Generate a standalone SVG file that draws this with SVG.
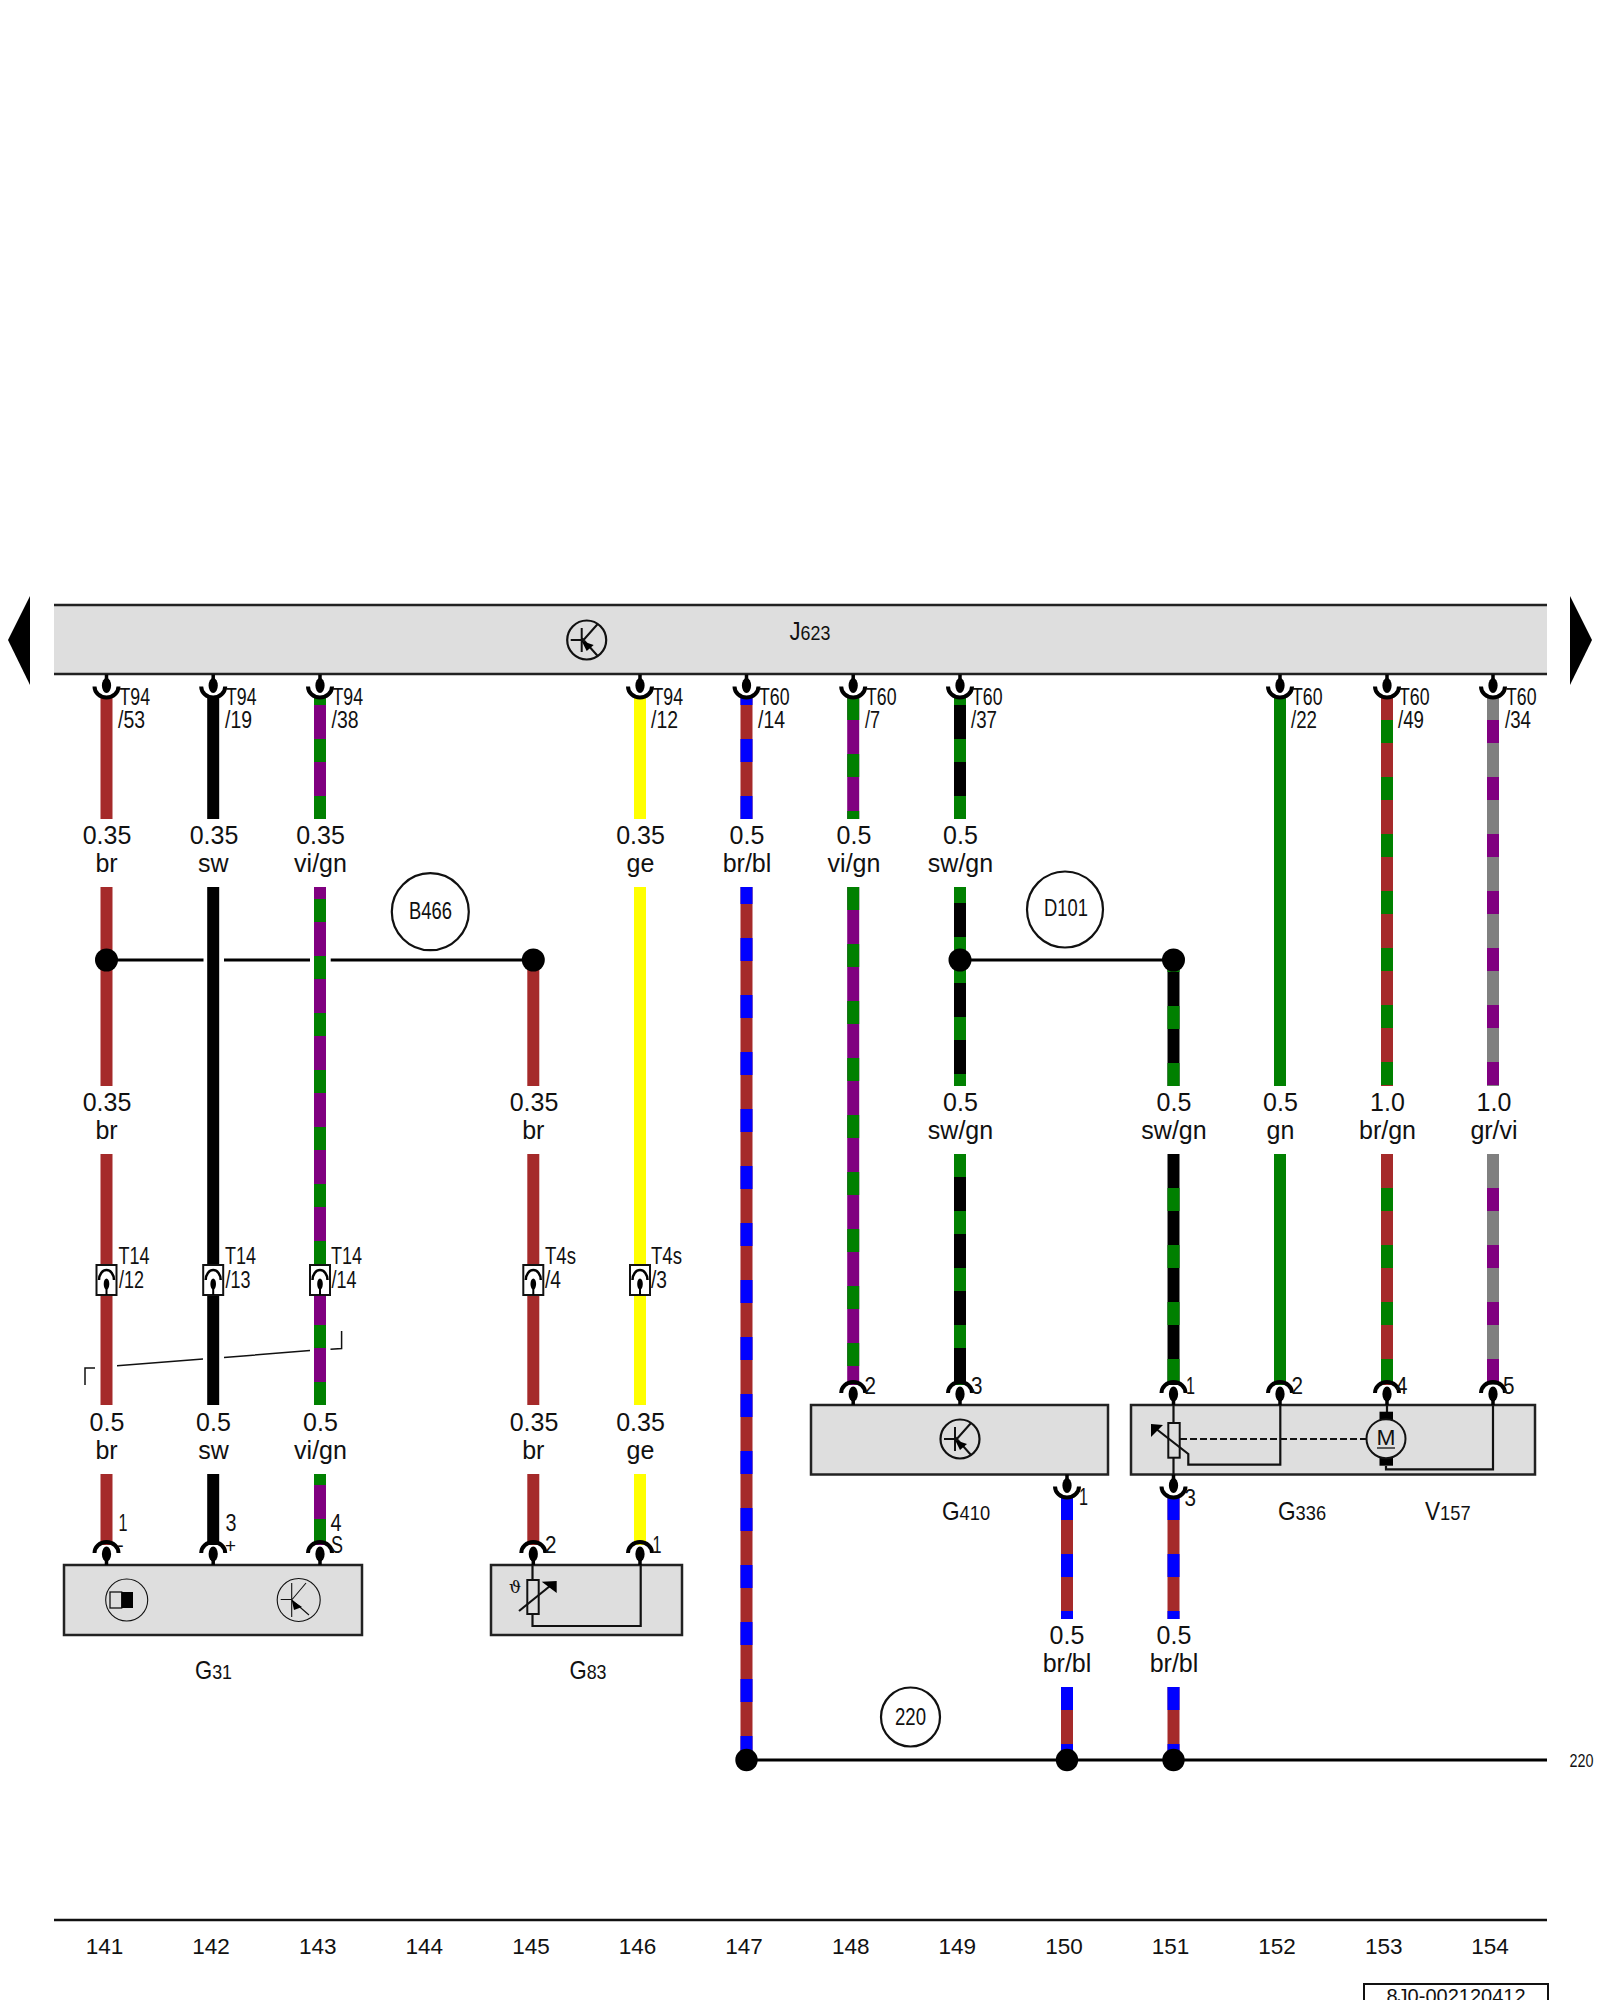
<svg xmlns="http://www.w3.org/2000/svg" xmlns:xlink="http://www.w3.org/1999/xlink" width="1600" height="2000" viewBox="0 0 1600 2000">
<style>
text{font-family:"Liberation Sans",Arial,sans-serif;fill:#111}
.w{fill:none;stroke-width:12}
.d{stroke-dasharray:23 34}
.br{stroke:#a52a2a}.sw{stroke:#000}.vi{stroke:#800080}.gn{stroke:#008000}.bl{stroke:#0000ff}.ge{stroke:#ffff00}.gr{stroke:#808080}
.box{fill:#dedede;stroke:#222;stroke-width:2.5}
.l{fill:none;stroke:#111;stroke-width:2.2}
.thin{fill:none;stroke:#111;stroke-width:1.1}
.shield{fill:none;stroke:#111;stroke-width:1.5}
.lab{font-size:25px;text-anchor:middle}
.pinl{font-size:23px}
.num{font-size:22.5px;text-anchor:middle}
.dot{fill:#000}
.bus{stroke:#000;stroke-width:3;fill:none}
</style>
<defs>
<g id="pin"><path d="M-12 -12A12 11 0 0 1 12 -12" fill="none" stroke="#000" stroke-width="4"/><line x1="0" y1="-11" x2="0" y2="0" stroke="#000" stroke-width="3.5"/><ellipse cx="0" cy="-11" rx="4.6" ry="7.5" fill="#000"/></g>
<g id="inline"><rect x="-10" y="-15" width="20" height="30" fill="#fff" stroke="#111" stroke-width="2"/><path d="M-7.5 0A7.5 10 0 0 1 7.5 0" fill="none" stroke="#000" stroke-width="2.5"/><line x1="0" y1="4" x2="0" y2="15" stroke="#000" stroke-width="2"/><ellipse cx="0" cy="4" rx="2.8" ry="5.5" fill="#000"/></g>
<g id="trans"><circle r="19.5" fill="none" stroke="#111" stroke-width="2.2"/><path d="M-16 0H-5M-5 -12V12M-5 2L11 -16M-5 -2L11 16" fill="none" stroke="#111" stroke-width="2"/><path d="M-5 1L7 5L0 11Z" fill="#000"/></g>
</defs>

<g id="connectors">
<!-- wire 141 -->
<path class="w br" d="M106.5 697V819M106.5 887V1086M106.5 1154V1405M106.5 1474V1545"/>
<!-- wire 142 -->
<path class="w sw" d="M213.2 697V819M213.2 887V1405M213.2 1474V1545"/>
<!-- wire 143 -->
<path class="w vi" d="M320 697V819M320 887V1405M320 1474V1545"/>
<line class="w gn d" x1="320" y1="697" x2="320" y2="819" stroke-dashoffset="15"/>
<line class="w gn d" x1="320" y1="887" x2="320" y2="1265" stroke-dashoffset="45"/>
<line class="w gn d" x1="320" y1="1265" x2="320" y2="1405" stroke-dashoffset="54"/>
<line class="w gn d" x1="320" y1="1474" x2="320" y2="1545" stroke-dashoffset="12"/>
<!-- wire 145 -->
<path class="w br" d="M533.3 960V1086M533.3 1154V1405M533.3 1474V1545"/>
<!-- wire 146 -->
<path class="w ge" d="M640 697V819M640 887V1405M640 1474V1545"/>
<!-- wire 147 -->
<path class="w br" d="M746.5 697V819M746.5 887V1760"/>
<line class="w bl d" x1="746.5" y1="697" x2="746.5" y2="819" stroke-dashoffset="15"/>
<line class="w bl d" x1="746.5" y1="887" x2="746.5" y2="1760" stroke-dashoffset="6"/>
<!-- wire 148 -->
<path class="w vi" d="M853.2 697V819M853.2 887V1385"/>
<line class="w gn d" x1="853.2" y1="697" x2="853.2" y2="819"/>
<line class="w gn d" x1="853.2" y1="887" x2="853.2" y2="1385"/>
<!-- wire 149 -->
<path class="w sw" d="M960 697V819M960 887V1086M960 1154V1385"/>
<line class="w gn d" x1="960" y1="697" x2="960" y2="819" stroke-dashoffset="15"/>
<line class="w gn d" x1="960" y1="887" x2="960" y2="960" stroke-dashoffset="7"/>
<line class="w gn d" x1="960" y1="960" x2="960" y2="1086"/>
<line class="w gn d" x1="960" y1="1154" x2="960" y2="1385"/>
<!-- wire 150 -->
<path class="w br" d="M1067 1497V1619M1067 1687V1760"/>
<line class="w bl d" x1="1067" y1="1497" x2="1067" y2="1619"/>
<line class="w bl d" x1="1067" y1="1687" x2="1067" y2="1760"/>
<!-- wire 151 -->
<path class="w sw" d="M1173.5 960V1086M1173.5 1154V1385"/>
<line class="w gn d" x1="1173.5" y1="960" x2="1173.5" y2="1086" stroke-dashoffset="11"/>
<line class="w gn d" x1="1173.5" y1="1154" x2="1173.5" y2="1385" stroke-dashoffset="23"/>
<path class="w br" d="M1173.5 1497V1619M1173.5 1687V1760"/>
<line class="w bl d" x1="1173.5" y1="1497" x2="1173.5" y2="1619"/>
<line class="w bl d" x1="1173.5" y1="1687" x2="1173.5" y2="1760"/>
<!-- wire 152 -->
<path class="w gn" d="M1280 697V1086M1280 1154V1385"/>
<!-- wire 153 -->
<path class="w br" d="M1387 697V1086M1387 1154V1385"/>
<line class="w gn d" x1="1387" y1="697" x2="1387" y2="1086" stroke-dashoffset="34"/>
<line class="w gn d" x1="1387" y1="1154" x2="1387" y2="1385" stroke-dashoffset="23"/>
<!-- wire 154 -->
<path class="w gr" d="M1493 697V1086M1493 1154V1385"/>
<line class="w vi d" x1="1493" y1="697" x2="1493" y2="1086" stroke-dashoffset="34"/>
<line class="w vi d" x1="1493" y1="1154" x2="1493" y2="1385" stroke-dashoffset="23"/>
<!-- splices and buses -->
<path class="bus" d="M106.5 960H203.5M224 960H310M330.7 960H533.3"/>
<path class="bus" d="M960 960H1173.5"/>
<path class="bus" d="M746.5 1760H1547"/>
<g class="dot">
<circle cx="106.5" cy="960" r="11.5"/><circle cx="533.3" cy="960" r="11.5"/>
<circle cx="960" cy="960" r="11.5"/><circle cx="1173.5" cy="960" r="11.5"/>
<circle cx="746.5" cy="1760" r="11.2"/><circle cx="1067" cy="1760" r="11.2"/><circle cx="1173.5" cy="1760" r="11.2"/>
</g>
</g>

<g id="wire-labels">
<text class="lab" x="107" y="844">0.35</text><text class="lab" x="106.5" y="872">br</text>
<text class="lab" x="214" y="844">0.35</text><text class="lab" x="213.2" y="872">sw</text>
<text class="lab" x="320.5" y="844">0.35</text><text class="lab" x="320.5" y="872">vi/gn</text>
<text class="lab" x="640.5" y="844">0.35</text><text class="lab" x="640.5" y="872">ge</text>
<text class="lab" x="747" y="844">0.5</text><text class="lab" x="747" y="872">br/bl</text>
<text class="lab" x="854" y="844">0.5</text><text class="lab" x="854" y="872">vi/gn</text>
<text class="lab" x="960.5" y="844">0.5</text><text class="lab" x="960.5" y="872">sw/gn</text>

<text class="lab" x="107" y="1111">0.35</text><text class="lab" x="106.5" y="1139">br</text>
<text class="lab" x="534" y="1111">0.35</text><text class="lab" x="533.3" y="1139">br</text>
<text class="lab" x="960.5" y="1111">0.5</text><text class="lab" x="960.5" y="1139">sw/gn</text>
<text class="lab" x="1174" y="1111">0.5</text><text class="lab" x="1174" y="1139">sw/gn</text>
<text class="lab" x="1280.5" y="1111">0.5</text><text class="lab" x="1280.5" y="1139">gn</text>
<text class="lab" x="1387.5" y="1111">1.0</text><text class="lab" x="1387.5" y="1139">br/gn</text>
<text class="lab" x="1494" y="1111">1.0</text><text class="lab" x="1494" y="1139">gr/vi</text>

<text class="lab" x="107" y="1431">0.5</text><text class="lab" x="106.5" y="1459">br</text>
<text class="lab" x="213.5" y="1431">0.5</text><text class="lab" x="213.5" y="1459">sw</text>
<text class="lab" x="320.5" y="1431">0.5</text><text class="lab" x="320.5" y="1459">vi/gn</text>
<text class="lab" x="534" y="1431">0.35</text><text class="lab" x="533.3" y="1459">br</text>
<text class="lab" x="640.5" y="1431">0.35</text><text class="lab" x="640.5" y="1459">ge</text>

<text class="lab" x="1067" y="1644">0.5</text><text class="lab" x="1067" y="1672">br/bl</text>
<text class="lab" x="1174" y="1644">0.5</text><text class="lab" x="1174" y="1672">br/bl</text>
</g>

<g id="J623">
<rect x="54" y="605" width="1493" height="69" fill="#dedede"/>
<path d="M54 605H1547M54 674H1547" stroke="#222" stroke-width="2.5" fill="none"/>
<use href="#trans" transform="translate(586.7 640)"/>
<text transform="translate(789.5 640) scale(.85 1)" font-size="26">J<tspan font-size="21">623</tspan></text>
<g id="J623-pins">
<use href="#pin" transform="translate(106.5 674.5) scale(1 -1)"/>
<use href="#pin" transform="translate(213.2 674.5) scale(1 -1)"/>
<use href="#pin" transform="translate(320 674.5) scale(1 -1)"/>
<use href="#pin" transform="translate(640 674.5) scale(1 -1)"/>
<use href="#pin" transform="translate(746.5 674.5) scale(1 -1)"/>
<use href="#pin" transform="translate(853.2 674.5) scale(1 -1)"/>
<use href="#pin" transform="translate(960 674.5) scale(1 -1)"/>
<use href="#pin" transform="translate(1280 674.5) scale(1 -1)"/>
<use href="#pin" transform="translate(1387 674.5) scale(1 -1)"/>
<use href="#pin" transform="translate(1493 674.5) scale(1 -1)"/>
</g>
<g>
<text class="pinl" x="119.5" y="705" textLength="30.5" lengthAdjust="spacingAndGlyphs">T94</text><text class="pinl" x="118" y="728" textLength="27" lengthAdjust="spacingAndGlyphs">/53</text>
<text class="pinl" x="226" y="705" textLength="30.5" lengthAdjust="spacingAndGlyphs">T94</text><text class="pinl" x="225" y="728" textLength="27" lengthAdjust="spacingAndGlyphs">/19</text>
<text class="pinl" x="332.5" y="705" textLength="30.5" lengthAdjust="spacingAndGlyphs">T94</text><text class="pinl" x="331.5" y="728" textLength="27" lengthAdjust="spacingAndGlyphs">/38</text>
<text class="pinl" x="652.5" y="705" textLength="30.5" lengthAdjust="spacingAndGlyphs">T94</text><text class="pinl" x="651" y="728" textLength="27" lengthAdjust="spacingAndGlyphs">/12</text>
<text class="pinl" x="759" y="705" textLength="30.5" lengthAdjust="spacingAndGlyphs">T60</text><text class="pinl" x="758" y="728" textLength="27" lengthAdjust="spacingAndGlyphs">/14</text>
<text class="pinl" x="866" y="705" textLength="30.5" lengthAdjust="spacingAndGlyphs">T60</text><text class="pinl" x="865" y="728" textLength="15" lengthAdjust="spacingAndGlyphs">/7</text>
<text class="pinl" x="972" y="705" textLength="30.5" lengthAdjust="spacingAndGlyphs">T60</text><text class="pinl" x="971" y="728" textLength="26" lengthAdjust="spacingAndGlyphs">/37</text>
<text class="pinl" x="1292" y="705" textLength="30.5" lengthAdjust="spacingAndGlyphs">T60</text><text class="pinl" x="1291" y="728" textLength="26" lengthAdjust="spacingAndGlyphs">/22</text>
<text class="pinl" x="1399" y="705" textLength="30.5" lengthAdjust="spacingAndGlyphs">T60</text><text class="pinl" x="1398" y="728" textLength="26" lengthAdjust="spacingAndGlyphs">/49</text>
<text class="pinl" x="1506" y="705" textLength="30.5" lengthAdjust="spacingAndGlyphs">T60</text><text class="pinl" x="1505" y="728" textLength="26" lengthAdjust="spacingAndGlyphs">/34</text>
</g>
</g>

<g id="arrow-left"><path d="M30 596V685L8 640Z" fill="#000"/></g>
<g id="arrow-right"><path d="M1570 596V685L1592 640Z" fill="#000"/></g>

<g id="B466"><circle cx="430.3" cy="911.7" r="38.5" fill="#fff" stroke="#111" stroke-width="2.2"/><text x="409" y="919" font-size="23" textLength="43" lengthAdjust="spacingAndGlyphs">B466</text></g>
<g id="D101"><circle cx="1065" cy="909.5" r="38" fill="#fff" stroke="#111" stroke-width="2.2"/><text x="1044" y="916" font-size="23" textLength="44" lengthAdjust="spacingAndGlyphs">D101</text></g>
<g id="c220"><circle cx="910.5" cy="1717" r="29.5" fill="#fff" stroke="#111" stroke-width="2.2"/><text x="895" y="1725" font-size="23" textLength="31" lengthAdjust="spacingAndGlyphs">220</text></g>
<g id="ref220"><text x="1569.5" y="1767" font-size="18" textLength="24" lengthAdjust="spacingAndGlyphs">220</text></g>

<g id="T14-12"><use href="#inline" transform="translate(106.5 1280)"/><text x="118.5" y="1264" font-size="23" textLength="31" lengthAdjust="spacingAndGlyphs">T14</text><text x="119" y="1288" font-size="23" textLength="25" lengthAdjust="spacingAndGlyphs">/12</text></g>
<g id="T14-13"><use href="#inline" transform="translate(213.2 1280)"/><text x="225" y="1264" font-size="23" textLength="31" lengthAdjust="spacingAndGlyphs">T14</text><text x="225.5" y="1288" font-size="23" textLength="25" lengthAdjust="spacingAndGlyphs">/13</text></g>
<g id="T14-14"><use href="#inline" transform="translate(320 1280)"/><text x="331" y="1264" font-size="23" textLength="31" lengthAdjust="spacingAndGlyphs">T14</text><text x="331.5" y="1288" font-size="23" textLength="25" lengthAdjust="spacingAndGlyphs">/14</text></g>
<g id="T4s-4"><use href="#inline" transform="translate(533.3 1280)"/><text x="545" y="1264" font-size="23" textLength="31" lengthAdjust="spacingAndGlyphs">T4s</text><text x="545" y="1288" font-size="23" textLength="16" lengthAdjust="spacingAndGlyphs">/4</text></g>
<g id="T4s-3"><use href="#inline" transform="translate(640 1280)"/><text x="651" y="1264" font-size="23" textLength="31" lengthAdjust="spacingAndGlyphs">T4s</text><text x="651" y="1288" font-size="23" textLength="16" lengthAdjust="spacingAndGlyphs">/3</text></g>

<g id="shield"><path class="shield" d="M85 1385V1368H95M117 1365.7L203 1359M224 1357.5L310 1350.5M330.5 1349.3L341.6 1348.5V1331"/></g>

<g id="G31">
<rect class="box" x="64" y="1565" width="298" height="70"/>
<use href="#pin" transform="translate(106.5 1565)"/><use href="#pin" transform="translate(213.2 1565)"/><use href="#pin" transform="translate(320 1565)"/>
<circle class="thin" cx="126.7" cy="1600" r="21"/>
<rect x="110" y="1592" width="11.7" height="16" fill="#dedede" stroke="#111" stroke-width="1.3"/>
<rect x="121.7" y="1592" width="11.3" height="16" fill="#000"/>
<circle class="thin" cx="298.7" cy="1600" r="21.5"/>
<path class="thin" d="M280.7 1599.5H291.7M291.7 1583V1617M291.7 1600L306 1583M291.7 1600L309 1615"/>
<path d="M291.7 1600L302 1607L294 1610Z" fill="#000"/>
<text x="118.5" y="1531" font-size="23" textLength="9" lengthAdjust="spacingAndGlyphs">1</text>
<text x="117" y="1552" font-size="20">-</text>
<text x="225.5" y="1531" font-size="23" textLength="11" lengthAdjust="spacingAndGlyphs">3</text>
<text x="225" y="1553" font-size="21" textLength="11" lengthAdjust="spacingAndGlyphs">+</text>
<text x="330.5" y="1531" font-size="23" textLength="11" lengthAdjust="spacingAndGlyphs">4</text>
<text x="331" y="1553" font-size="23" textLength="12" lengthAdjust="spacingAndGlyphs">S</text>
<text transform="translate(195 1679) scale(.85 1)" font-size="26">G<tspan font-size="21">31</tspan></text>
</g>

<g id="G83">
<rect class="box" x="491" y="1565" width="191" height="70"/>
<use href="#pin" transform="translate(533.3 1565)"/><use href="#pin" transform="translate(640 1565)"/>
<path class="l" d="M532.5 1565V1580M532.5 1614V1626H640.7V1565"/>
<rect x="527.3" y="1580" width="11.4" height="34" fill="#dedede" stroke="#111" stroke-width="2"/>
<path class="l" d="M519 1611L550 1586"/>
<path d="M556.7 1581L541.7 1581.7L556.7 1593Z" fill="#000"/>
<text x="509" y="1593" font-size="17" style="font-family:'DejaVu Serif','Liberation Serif',serif">ϑ</text>
<text x="545" y="1553" font-size="23" textLength="11.5" lengthAdjust="spacingAndGlyphs">2</text>
<text x="652.5" y="1553" font-size="23" textLength="9" lengthAdjust="spacingAndGlyphs">1</text>
<text transform="translate(569.5 1679) scale(.85 1)" font-size="26">G<tspan font-size="21">83</tspan></text>
</g>

<g id="G410">
<rect class="box" x="811" y="1405" width="297" height="69.5"/>
<use href="#pin" transform="translate(853.2 1405)"/><use href="#pin" transform="translate(960 1405)"/>
<use href="#pin" transform="translate(1067 1474.5) scale(1 -1)"/>
<use href="#trans" transform="translate(960 1439)"/>
<text x="864.5" y="1394" font-size="23" textLength="11.5" lengthAdjust="spacingAndGlyphs">2</text>
<text x="971" y="1394" font-size="23" textLength="11.5" lengthAdjust="spacingAndGlyphs">3</text>
<text x="1079" y="1505" font-size="23" textLength="9" lengthAdjust="spacingAndGlyphs">1</text>
<text transform="translate(942 1520) scale(.87 1)" font-size="26">G<tspan font-size="21">410</tspan></text>
</g>

<g id="G336-V157">
<rect class="box" x="1131" y="1405" width="404" height="69.5"/>
<use href="#pin" transform="translate(1173.5 1405)"/><use href="#pin" transform="translate(1280 1405)"/><use href="#pin" transform="translate(1387 1405)"/><use href="#pin" transform="translate(1493 1405)"/>
<use href="#pin" transform="translate(1173.5 1474.5) scale(1 -1)"/>
<path class="l" d="M1173.5 1405V1423M1173.5 1458V1474"/>
<rect x="1168.3" y="1423" width="11.4" height="34.7" fill="#dedede" stroke="#111" stroke-width="2"/>
<path class="l" d="M1155 1428L1188.3 1454V1464.7H1280.3V1405"/>
<path d="M1151 1424L1163 1425L1151 1437Z" fill="#000"/>
<line x1="1180" y1="1439" x2="1367" y2="1439" stroke="#111" stroke-width="2.2" stroke-dasharray="7 3"/>
<path class="l" d="M1387 1405V1412M1386 1466V1469.3H1493V1405"/>
<rect x="1379.5" y="1411.7" width="13.5" height="9.5" fill="#000"/>
<rect x="1379.5" y="1456.7" width="13.5" height="9" fill="#000"/>
<circle cx="1386" cy="1438.7" r="19.5" fill="#dedede" stroke="#111" stroke-width="2"/>
<text x="1376.5" y="1445" font-size="22" textLength="19" lengthAdjust="spacingAndGlyphs">M</text>
<line x1="1377" y1="1448" x2="1395" y2="1448" stroke="#111" stroke-width="1.3"/>
<text x="1186" y="1394" font-size="23" textLength="9" lengthAdjust="spacingAndGlyphs">1</text>
<text x="1291.5" y="1394" font-size="23" textLength="11.5" lengthAdjust="spacingAndGlyphs">2</text>
<text x="1396" y="1394" font-size="23" textLength="11.5" lengthAdjust="spacingAndGlyphs">4</text>
<text x="1503" y="1394" font-size="23" textLength="11.5" lengthAdjust="spacingAndGlyphs">5</text>
<text x="1184.5" y="1506" font-size="23" textLength="11.5" lengthAdjust="spacingAndGlyphs">3</text>
<text transform="translate(1278 1520) scale(.87 1)" font-size="26">G<tspan font-size="21">336</tspan></text>
<text transform="translate(1425 1520) scale(.87 1)" font-size="26">V<tspan font-size="21">157</tspan></text>
</g>

<g id="footer">
<line x1="54" y1="1920" x2="1547" y2="1920" stroke="#111" stroke-width="2.5"/>
<text class="num" x="104.5" y="1954">141</text><text class="num" x="211" y="1954">142</text><text class="num" x="317.7" y="1954">143</text><text class="num" x="424.3" y="1954">144</text><text class="num" x="531" y="1954">145</text><text class="num" x="637.5" y="1954">146</text><text class="num" x="744" y="1954">147</text><text class="num" x="850.7" y="1954">148</text><text class="num" x="957.3" y="1954">149</text><text class="num" x="1064" y="1954">150</text><text class="num" x="1170.5" y="1954">151</text><text class="num" x="1277" y="1954">152</text><text class="num" x="1383.7" y="1954">153</text><text class="num" x="1490" y="1954">154</text>
<rect x="1364" y="1984" width="184" height="40" fill="#fff" stroke="#111" stroke-width="2"/>
<text x="1456" y="2003" font-size="20" text-anchor="middle">8J0-002120412</text>
</g>
</svg>
